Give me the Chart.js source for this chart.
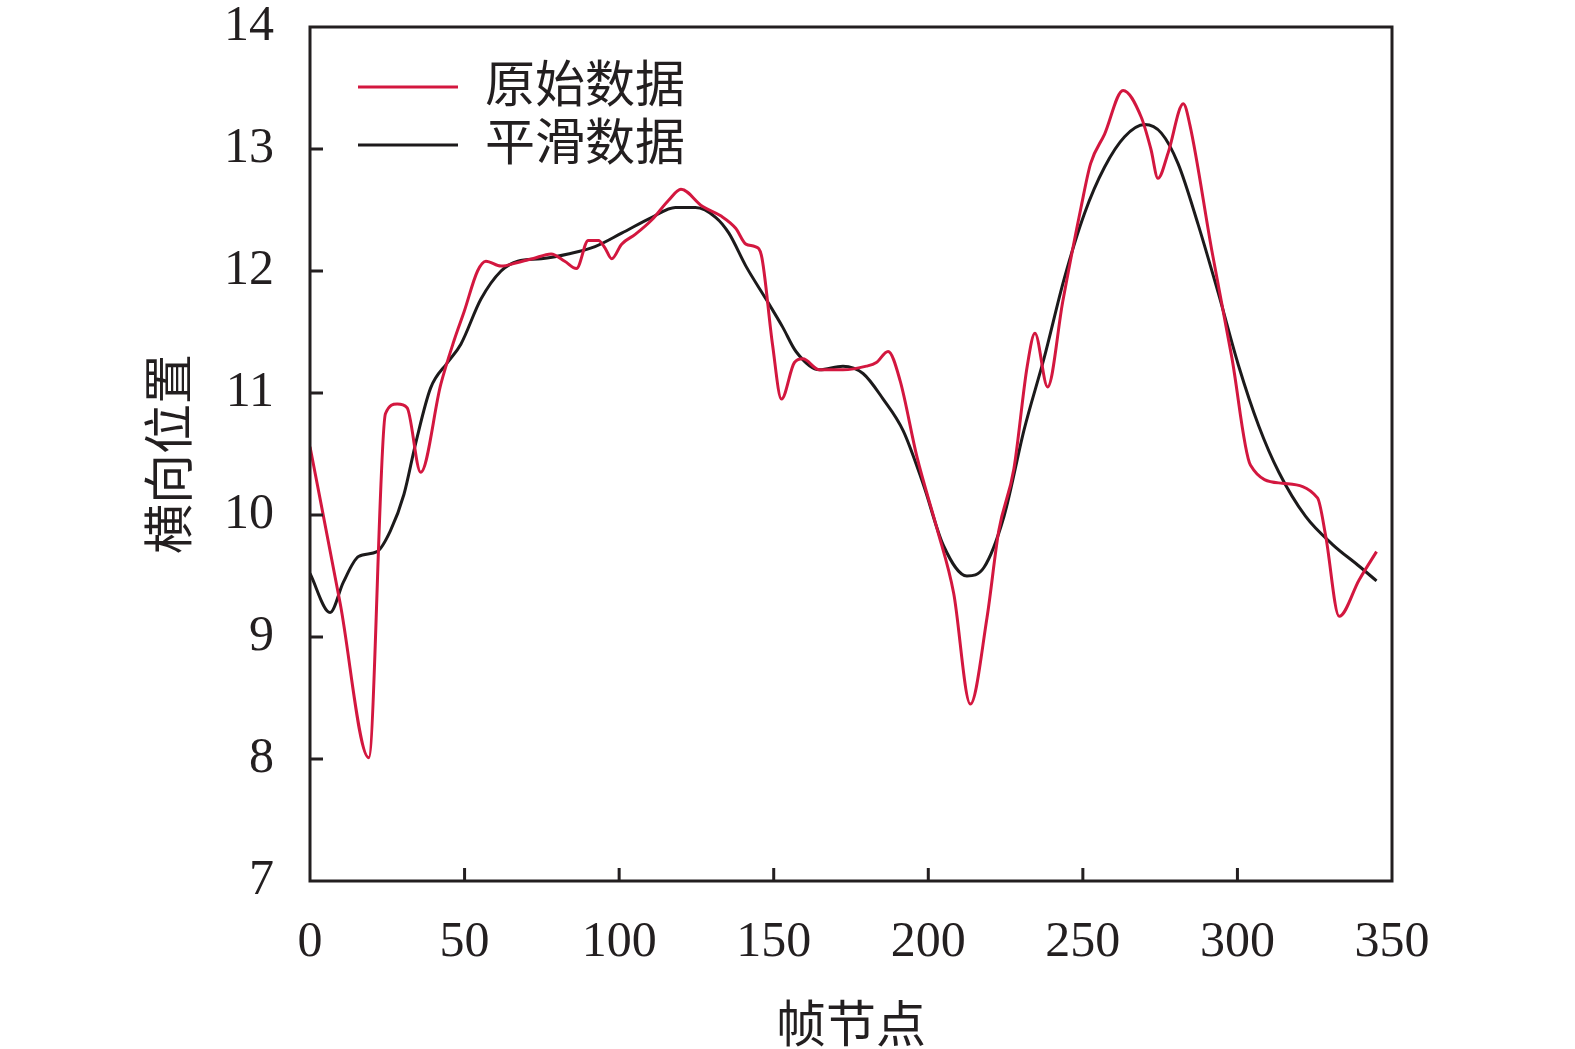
<!DOCTYPE html>
<html>
<head>
<meta charset="utf-8">
<script src="https://cdn.jsdelivr.net/npm/chart.js@4.4.1/dist/chart.umd.min.js"></script>
<style>
  html, body { margin: 0; padding: 0; background: #ffffff; overflow: hidden; }
  #wrap { width: 1575px; height: 1049px; position: relative; }
  canvas { display: block; }
</style>
</head>
<body>
<div id="wrap"><canvas id="c" width="1575" height="1049" style="width:1575px;height:1049px"></canvas></div>
<script>
// ---- Data ----
const rawX = [0, 9.8, 19, 24.4, 28.2, 31.4, 35.8, 42.3, 46.6, 49.9, 54.2, 56.9, 61.8, 67.2, 72, 78, 82.4, 86.2, 90, 93.3, 95.4, 97.6, 100.8, 105.2, 110.6, 116, 120, 126.9, 133, 137.7, 141, 144, 146, 149.6, 152.5, 156.7, 159.4, 164.8, 172.4, 180, 183.2, 187, 190.9, 196.3, 202.8, 208.2, 213.6, 219, 222.8, 227.7, 232, 234.5, 238.6, 243.5, 249.4, 252.5, 257, 263, 268.9, 272, 274.3, 277.6, 282.5, 284.6, 291.7, 298.2, 304.2, 314.5, 325.9, 328.6, 332.9, 339.4, 345];
const rawY = [10.56, 9.27, 8.01, 10.83, 10.91, 10.88, 10.35, 11.07, 11.43, 11.67, 12.00, 12.08, 12.04, 12.07, 12.10, 12.14, 12.08, 12.02, 12.25, 12.25, 12.19, 12.10, 12.22, 12.30, 12.42, 12.58, 12.67, 12.53, 12.45, 12.35, 12.22, 12.20, 12.13, 11.40, 10.95, 11.25, 11.28, 11.19, 11.19, 11.22, 11.25, 11.34, 11.10, 10.48, 9.89, 9.36, 8.45, 9.16, 9.87, 10.38, 11.22, 11.49, 11.05, 11.75, 12.52, 12.88, 13.12, 13.48, 13.26, 13.00, 12.76, 12.97, 13.37, 13.20, 12.17, 11.29, 10.41, 10.26, 10.14, 9.82, 9.17, 9.47, 9.70];
const smoothX = [0, 6.5, 10.8, 15.7, 21.7, 26, 30.4, 34.2, 39, 44.5, 48.8, 55.3, 61.8, 67.2, 74.8, 83.5, 92.2, 100.8, 110.6, 118.2, 124.7, 131.2, 135.5, 141, 147.5, 152.9, 157.2, 164.8, 172.4, 178.9, 185.4, 191.9, 198.4, 204.9, 212.5, 218, 224.5, 231, 237.5, 244, 250.5, 257, 263.5, 270, 275.4, 280.8, 287.3, 293.8, 300.3, 306.9, 313.4, 322, 330.7, 339.4, 345];
const smoothY = [9.52, 9.20, 9.45, 9.66, 9.70, 9.87, 10.17, 10.59, 11.04, 11.25, 11.40, 11.77, 12.00, 12.08, 12.10, 12.14, 12.20, 12.31, 12.44, 12.52, 12.52, 12.44, 12.31, 12.04, 11.77, 11.54, 11.34, 11.19, 11.22, 11.16, 10.95, 10.69, 10.25, 9.75, 9.50, 9.57, 9.99, 10.70, 11.29, 11.94, 12.47, 12.85, 13.10, 13.20, 13.13, 12.88, 12.38, 11.82, 11.23, 10.73, 10.35, 9.99, 9.76, 9.58, 9.46];
const seriesNames = ['原始数据', '平滑数据'];
const xTicks = [0, 50, 100, 150, 200, 250, 300, 350];
const yTicks = [7, 8, 9, 10, 11, 12, 13, 14];
const xTitle = '帧节点';
const yTitle = '横向位置';

const RED = '#d3173f';
const BLACK = '#1c1a1b';
const AXIS = '#231f20';
const FONT = '"Liberation Serif", "Times New Roman", "Noto Sans CJK SC", serif';

function pts(xs, ys) { return xs.map((x, i) => ({ x: x, y: ys[i] })); }

const boxPlugin = {
  id: 'boxPlugin',
  afterDraw(chart) {
    const { ctx, chartArea: a, scales } = chart;
    ctx.save();
    ctx.strokeStyle = AXIS;
    ctx.lineWidth = 3;
    ctx.strokeRect(a.left, a.top, a.right - a.left, a.bottom - a.top);
    // inward ticks
    const tl = 13;
    ctx.beginPath();
    xTicks.forEach(v => {
      if (v === xTicks[0] || v === xTicks[xTicks.length - 1]) return;
      const px = scales.x.getPixelForValue(v);
      ctx.moveTo(px, a.bottom);
      ctx.lineTo(px, a.bottom - tl);
    });
    yTicks.forEach(v => {
      if (v === yTicks[0] || v === yTicks[yTicks.length - 1]) return;
      const py = scales.y.getPixelForValue(v);
      ctx.moveTo(a.left, py);
      ctx.lineTo(a.left + tl, py);
    });
    ctx.stroke();
    // legend
    const items = chart.data.datasets;
    const lx0 = a.left + 48, lx1 = a.left + 148, tx = a.left + 175;
    const ys = [a.top + 60, a.top + 118];
    ctx.font = '50px ' + FONT;
    ctx.textBaseline = 'middle';
    ctx.textAlign = 'left';
    items.forEach((ds, i) => {
      ctx.strokeStyle = ds.borderColor;
      ctx.lineWidth = 3;
      ctx.beginPath();
      ctx.moveTo(lx0, ys[i]);
      ctx.lineTo(lx1, ys[i]);
      ctx.stroke();
      ctx.fillStyle = '#231f20';
      ctx.fillText(ds.label, tx, ys[i] + 2);
    });
    ctx.restore();
  }
};

const chart = new Chart(document.getElementById('c'), {
  type: 'line',
  data: {
    datasets: [
      { label: seriesNames[0], data: pts(rawX, rawY), borderColor: RED, borderWidth: 3, pointRadius: 0, cubicInterpolationMode: 'monotone', tension: 0.4, fill: false },
      { label: seriesNames[1], data: pts(smoothX, smoothY), borderColor: BLACK, borderWidth: 3, pointRadius: 0, cubicInterpolationMode: 'monotone', tension: 0.4, fill: false }
    ]
  },
  options: {
    responsive: false,
    animation: false,
    devicePixelRatio: 1,
    layout: { padding: { left: 0, right: 183, top: 27, bottom: 0 } },
    plugins: { legend: { display: false }, tooltip: { enabled: false } },
    scales: {
      x: {
        type: 'linear', min: 0, max: 350,
        afterBuildTicks: s => { s.ticks = xTicks.map(v => ({ value: v })); },
        afterFit: s => { s.height = 168; s.paddingLeft = 0; s.paddingRight = 0; },
        grid: { display: false, drawTicks: false },
        border: { display: false },
        ticks: { color: '#231f20', padding: 32, font: { family: FONT, size: 50 }, maxRotation: 0 },
        title: { display: true, text: xTitle, color: '#231f20', font: { family: FONT, size: 50 }, padding: { top: 0, bottom: -10 } }
      },
      y: {
        type: 'linear', min: 7, max: 14,
        afterBuildTicks: s => { s.ticks = yTicks.map(v => ({ value: v })); },
        afterFit: s => { s.width = 310; s.paddingTop = 0; s.paddingBottom = 0; },
        grid: { display: false, drawTicks: false },
        border: { display: false },
        ticks: { color: '#231f20', padding: 36, font: { family: FONT, size: 50 } },
        title: { display: true, text: yTitle, color: '#231f20', font: { family: FONT, size: 50 }, padding: { top: 144, bottom: 0 } }
      }
    }
  },
  plugins: [boxPlugin]
});
</script>
</body>
</html>
